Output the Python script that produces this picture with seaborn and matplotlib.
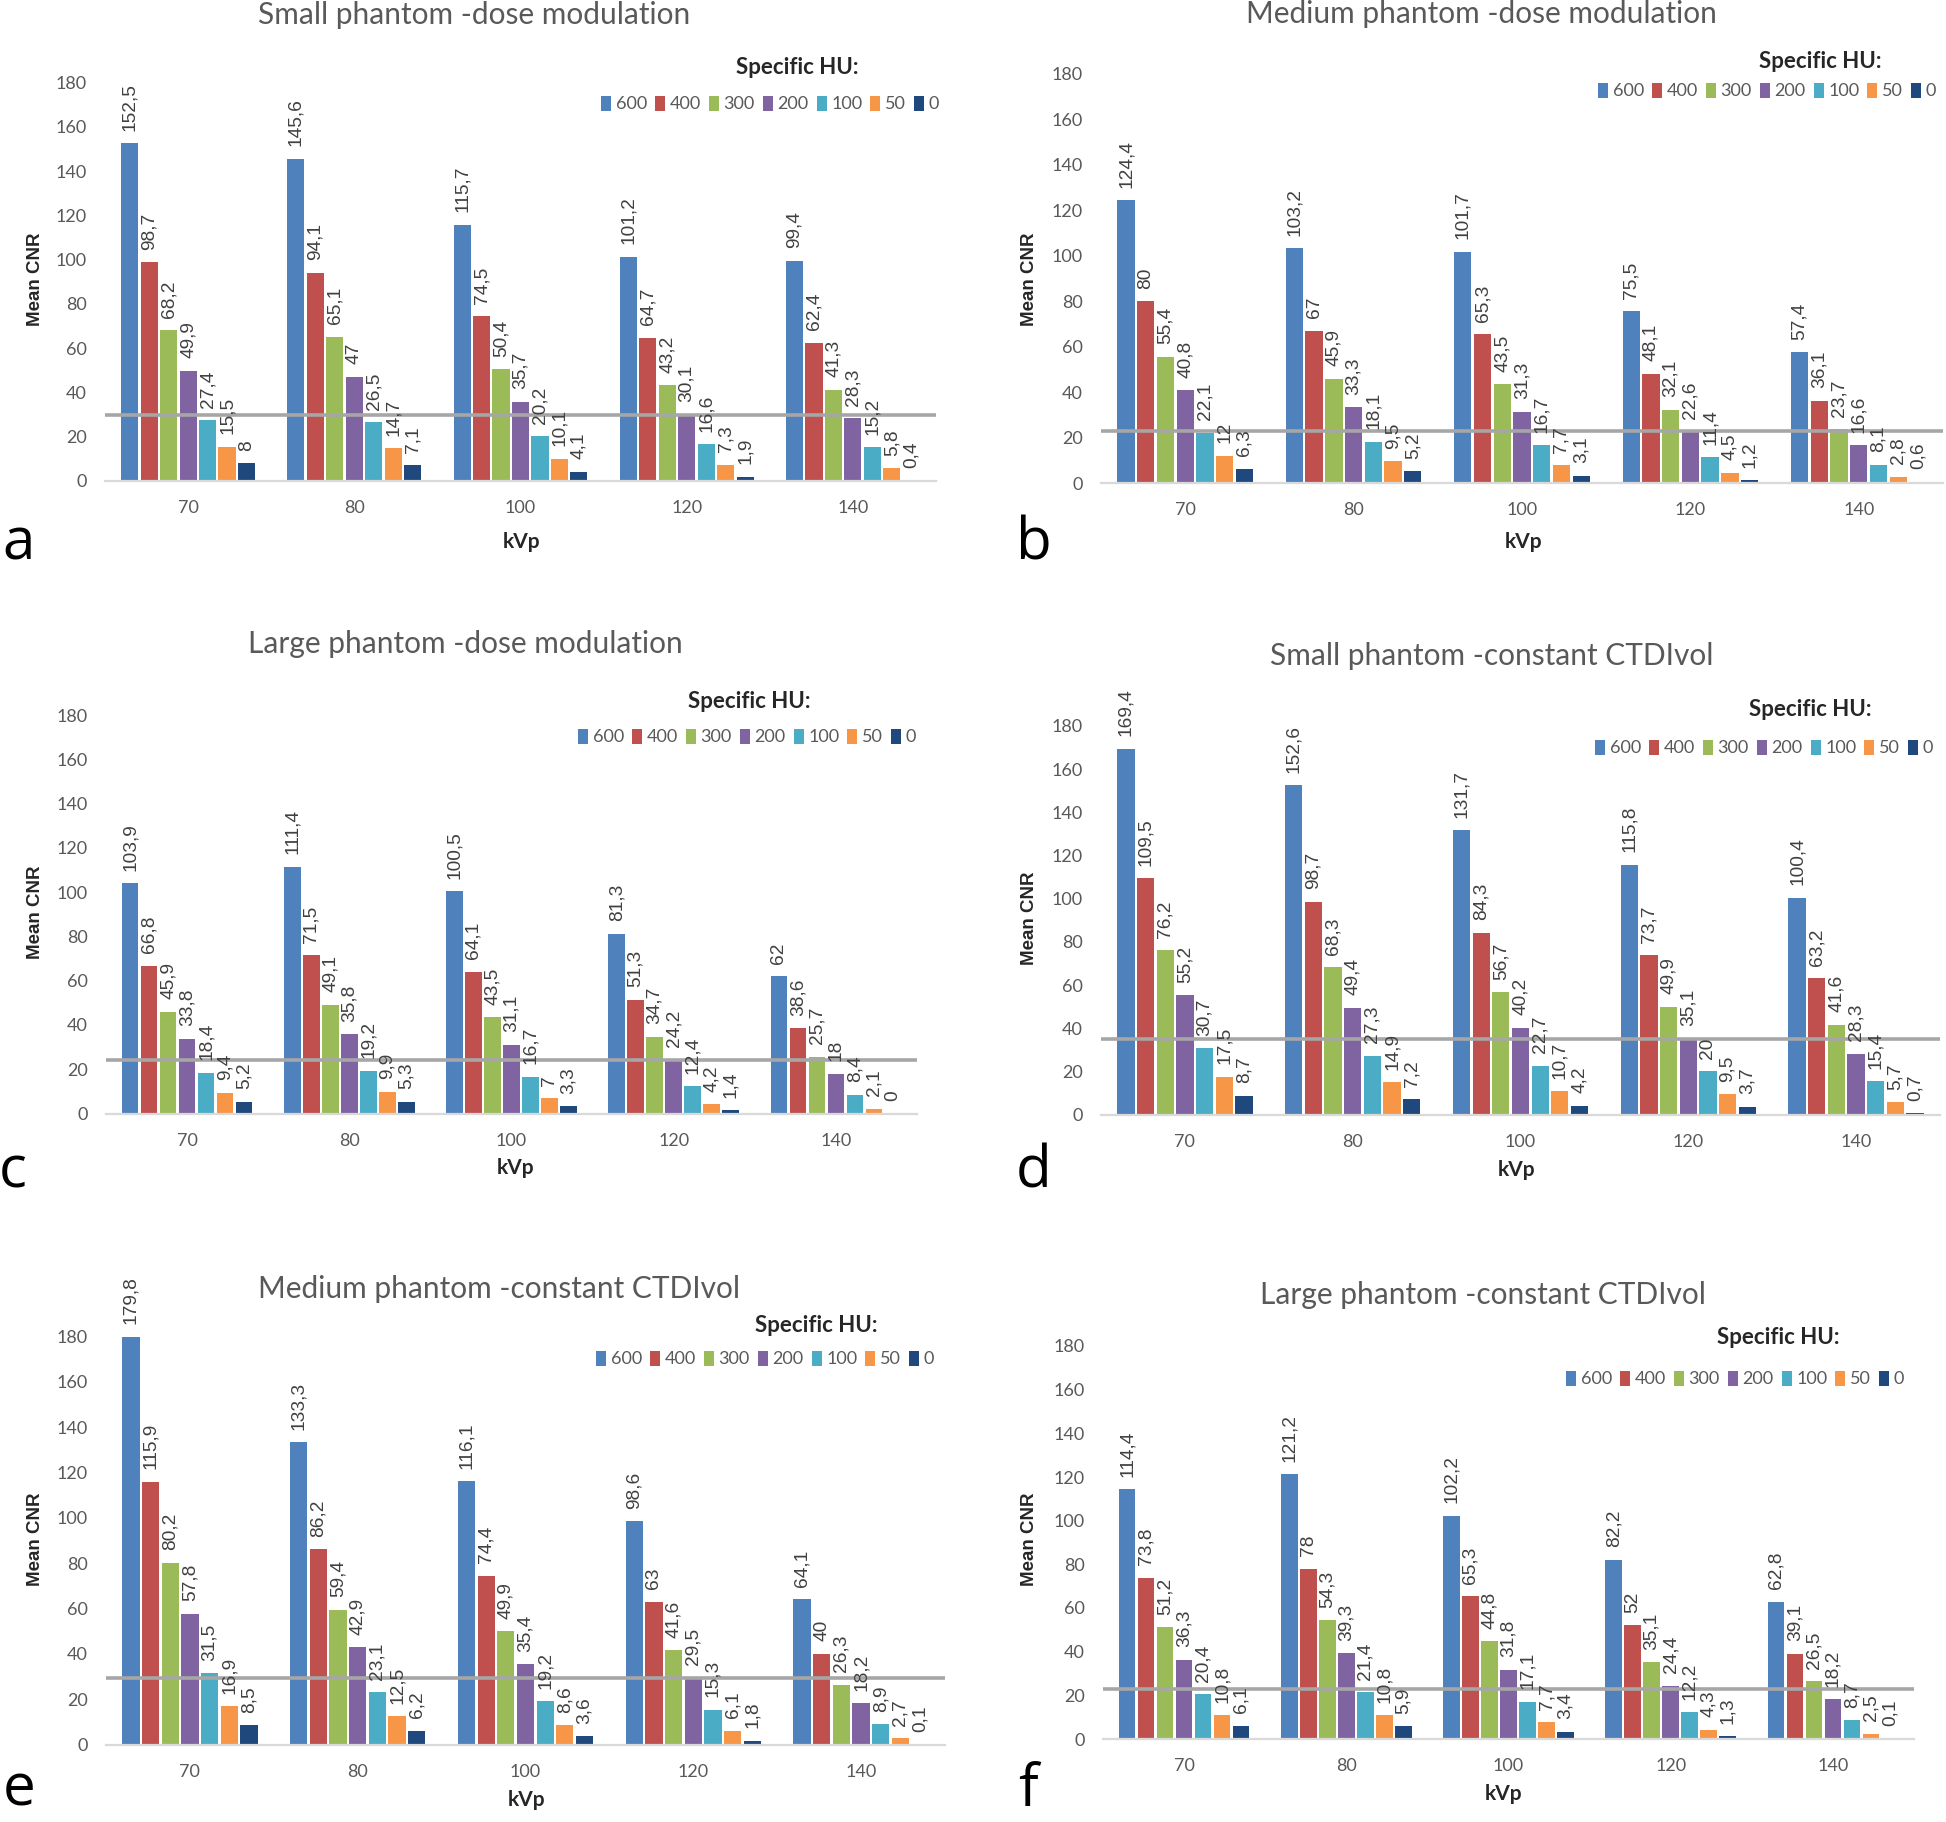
import matplotlib
matplotlib.use('Agg')
import matplotlib.pyplot as plt
import pandas as pd
import seaborn as sns
from matplotlib.patches import Patch

# ---------------- data ----------------
kvp = ['70', '80', '100', '120', '140']
hu_levels = ['600', '400', '300', '200', '100', '50', '0']

titles = ['Small phantom -dose modulation', 'Medium phantom -dose modulation',
          'Large phantom -dose modulation', 'Small phantom -constant CTDIvol',
          'Medium phantom -constant CTDIvol', 'Large phantom -constant CTDIvol']
letters = ['a', 'b', 'c', 'd', 'e', 'f']

# rows: HU 600, 400, 300, 200, 100, 50, 0 ; columns: kVp 70, 80, 100, 120, 140
small_dose = [[152.5, 145.6, 115.7, 101.2, 99.4],
              [98.7, 94.1, 74.5, 64.7, 62.4],
              [68.2, 65.1, 50.4, 43.2, 41.3],
              [49.9, 47, 35.7, 30.1, 28.3],
              [27.4, 26.5, 20.2, 16.6, 15.2],
              [15.5, 14.7, 10.1, 7.3, 5.8],
              [8, 7.1, 4.1, 1.9, 0.4]]
medium_dose = [[124.4, 103.2, 101.7, 75.5, 57.4],
               [80, 67, 65.3, 48.1, 36.1],
               [55.4, 45.9, 43.5, 32.1, 23.7],
               [40.8, 33.3, 31.3, 22.6, 16.6],
               [22.1, 18.1, 16.7, 11.4, 8.1],
               [12, 9.5, 7.7, 4.5, 2.8],
               [6.3, 5.2, 3.1, 1.2, 0.6]]
large_dose = [[103.9, 111.4, 100.5, 81.3, 62],
              [66.8, 71.5, 64.1, 51.3, 38.6],
              [45.9, 49.1, 43.5, 34.7, 25.7],
              [33.8, 35.8, 31.1, 24.2, 18],
              [18.4, 19.2, 16.7, 12.4, 8.4],
              [9.4, 9.9, 7, 4.2, 2.1],
              [5.2, 5.3, 3.3, 1.4, 0]]
small_ctdi = [[169.4, 152.6, 131.7, 115.8, 100.4],
              [109.5, 98.7, 84.3, 73.7, 63.2],
              [76.2, 68.3, 56.7, 49.9, 41.6],
              [55.2, 49.4, 40.2, 35.1, 28.3],
              [30.7, 27.3, 22.7, 20, 15.4],
              [17.5, 14.9, 10.7, 9.5, 5.7],
              [8.7, 7.2, 4.2, 3.7, 0.7]]
medium_ctdi = [[179.8, 133.3, 116.1, 98.6, 64.1],
               [115.9, 86.2, 74.4, 63, 40],
               [80.2, 59.4, 49.9, 41.6, 26.3],
               [57.8, 42.9, 35.4, 29.5, 18.2],
               [31.5, 23.1, 19.2, 15.3, 8.9],
               [16.9, 12.5, 8.6, 6.1, 2.7],
               [8.5, 6.2, 3.6, 1.8, 0.1]]
large_ctdi = [[114.4, 121.2, 102.2, 82.2, 62.8],
              [73.8, 78, 65.3, 52, 39.1],
              [51.2, 54.3, 44.8, 35.1, 26.5],
              [36.3, 39.3, 31.8, 24.4, 18.2],
              [20.4, 21.4, 17.1, 12.2, 8.7],
              [10.8, 10.8, 7.7, 4.3, 2.5],
              [6.1, 5.9, 3.4, 1.3, 0.1]]
datasets = [small_dose, medium_dose, large_dose, small_ctdi, medium_ctdi, large_ctdi]
thresholds = [30, 23, 24, 35, 29.5, 23]
yticks = [0, 20, 40, 60, 80, 100, 120, 140, 160, 180]

colors = ['#4F81BD', '#C0504D', '#9BBB59', '#8064A2', '#4BACC6', '#F79646', '#1F497D']
palette = dict(zip(hu_levels, colors))

# ---------------- layout (pixels in 1946x1822 canvas) ----------------
W, H = 1946, 1822
# axes: x_left, x_right, y_top(=180), y_bottom(=0)
ax_px = [(105, 936, 82.5, 481), (1101, 1943, 73.6, 483),
         (106, 917, 715, 1113.5), (1101, 1940, 726, 1114.6),
         (106, 945, 1336.5, 1744.6), (1103, 1914, 1346, 1739)]
title_px = [(474, 15), (1481, 14), (465, 644), (1492, 656), (499, 1289), (1483, 1295)]
legtitle_px = [(797, 68), (1820, 62), (749, 701), (1810, 709), (816, 1325), (1778, 1338)]
legrow_px = [(770, 104), (1767, 91), (747, 737), (1764, 748), (765, 1359), (1735, 1379)]
letter_px = [(19, 559), (1034, 559), (13, 1187), (1034, 1188), (19, 1806), (1028, 1806)]
kvp_px = [(522, 542), (1524, 542), (516, 1168), (1517, 1170), (527, 1800), (1504, 1794)]
ylab_px = [(35, 279), (1030, 279), (35, 912), (1030, 918), (35, 1539), (1030, 1539)]

sns.set_theme(style='white')
plt.rcParams['font.family'] = ['Lato', 'DejaVu Sans']

fig = plt.figure(figsize=(W / 100, H / 100), dpi=100)
fig.patch.set_facecolor('white')


def fx(x):
    return x / W


def fy(y):
    return 1 - y / H


def fmt(v):
    return ('%g' % v).replace('.', ',')


for i in range(6):
    x0, x1, yt, yb = ax_px[i]
    ax = fig.add_axes([fx(x0), fy(yb), (x1 - x0) / W, (yb - yt) / H])
    data = datasets[i]
    rows = []
    for h, series in zip(hu_levels, data):
        for k, v in zip(kvp, series):
            rows.append({'kVp': k, 'HU': h, 'CNR': v})
    df = pd.DataFrame(rows)
    sns.barplot(data=df, x='kVp', y='CNR', hue='HU', order=kvp, hue_order=hu_levels,
                palette=palette, width=0.82, gap=0.12, legend=False, ax=ax,
                saturation=1, errorbar=None, linewidth=0)
    for cont, series in zip(ax.containers, data):
        ax.bar_label(cont, labels=[fmt(v) for v in series], rotation=90, padding=9,
                     fontsize=13.8, color='#404040', family='Liberation Sans',
                     clip_on=False, zorder=6)
    ax.axhline(thresholds[i], color='#A6A6A6', lw=2.6, zorder=5)
    ax.set_xlim(-0.5, 4.5)
    ax.set_ylim(0, 180)
    ax.set_yticks(yticks)
    ax.set_yticklabels([str(t) for t in yticks])
    ax.tick_params(axis='both', length=0, labelsize=13, labelcolor='#595959')
    ax.tick_params(axis='y', pad=13)
    ax.tick_params(axis='x', pad=14)
    for s in ['top', 'right', 'left']:
        ax.spines[s].set_visible(False)
    ax.spines['bottom'].set_color('#D9D9D9')
    ax.spines['bottom'].set_linewidth(1.6)
    ax.set_xlabel('')
    ax.set_ylabel('')
    ax.set_facecolor('none')

    # texts
    tx, ty = title_px[i]
    fig.text(fx(tx), fy(ty), titles[i], ha='center', va='center', fontsize=21.5,
             color='#595959')
    lx, ly = legtitle_px[i]
    fig.text(fx(lx), fy(ly), 'Specific HU:', ha='center', va='center', fontsize=16,
             color='#262626', fontweight='bold')
    handles = [Patch(facecolor=c, edgecolor='none', label=h) for h, c in zip(hu_levels, colors)]
    rx, ry = legrow_px[i]
    leg = ax.legend(handles=handles, loc='center', bbox_to_anchor=(fx(rx), fy(ry)),
                    bbox_transform=fig.transFigure, ncol=7, frameon=False,
                    handlelength=0.55, handleheight=0.9, handletextpad=0.25,
                    columnspacing=0.45, borderpad=0, fontsize=13)
    for t in leg.get_texts():
        t.set_color('#595959')
    kx, ky = kvp_px[i]
    fig.text(fx(kx), fy(ky), 'kVp', ha='center', va='center', fontsize=15,
             fontweight='bold', color='#262626')
    yx, yy = ylab_px[i]
    fig.text(fx(yx), fy(yy), 'Mean CNR', ha='center', va='center', rotation=90,
             fontsize=13.5, fontweight='bold', color='#262626', family='Liberation Sans')
    ltx, lty = letter_px[i]
    fig.text(fx(ltx), fy(lty), letters[i], ha='center', va='baseline', fontsize=42,
             color='#000000', family='Open Sans')

fig.savefig('out.png', dpi=100, facecolor='white')
